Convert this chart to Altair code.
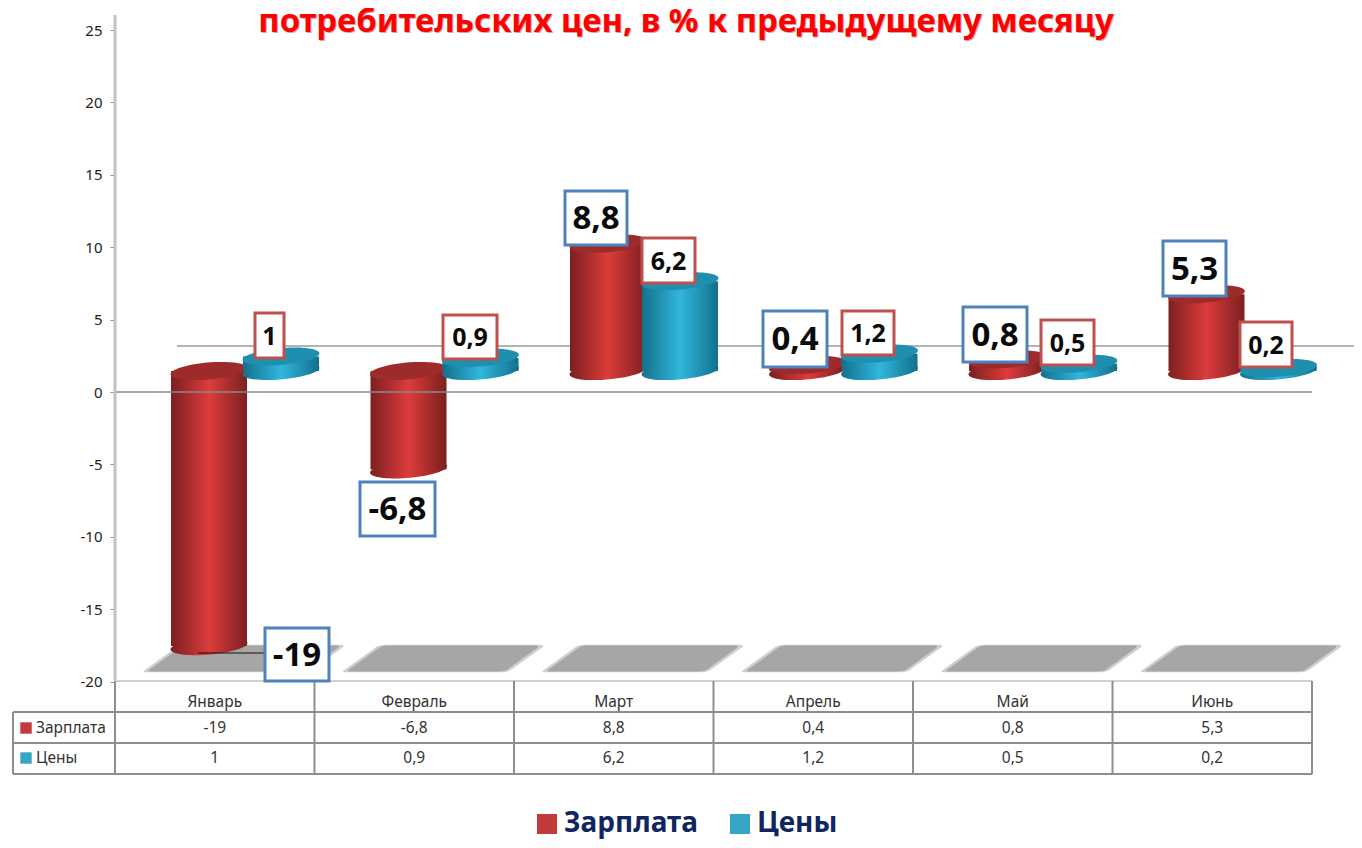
import altair as alt
import pandas as pd

# ---- values
months = ["Январь", "Февраль", "Март", "Апрель", "Май", "Июнь"]
wages = [-19, -6.8, 8.8, 0.4, 0.8, 5.3]
prices = [1, 0.9, 6.2, 1.2, 0.5, 0.2]
series_names = ["Зарплата", "Цены"]
axis_ticks = [-20, -15, -10, -5, 0, 5, 10, 15, 20, 25]
title_text = "потребительских цен, в % к предыдущему месяцу"

# ---- layout helpers (screen pixel -> data units of the shared scales)
PLOT_L, PLOT_T, PLOT_W, PLOT_H = 115, 15, 1197, 759
PX_PER_CAT = PLOT_W / 6
PX_PER_UNIT = 14.48
ZERO_PX = 392
def dx(px): return (px - PLOT_L) / PX_PER_CAT
def dy(px): return (ZERO_PX - px) / PX_PER_UNIT
Y_DOMAIN = [dy(PLOT_T + PLOT_H), dy(PLOT_T)]
BASE = 1.45            # the 3-D floor of the cylinders sits above the zero line
BAR_W = 76 / PX_PER_CAT
CENTER = {"Зарплата": dx(209), "Цены": dx(281)}

Y_AXIS = alt.Axis(values=axis_ticks, title=None, grid=False, domain=False,
                  tickColor="#9a9a9a", tickSize=5, labelFont="Noto Sans", labelFontSize=15,
                  labelColor="#222222", labelPadding=8,
                  labelExpr="replace(datum.label, '−', '-')")
X = lambda f="x": alt.X(f"{f}:Q", scale=alt.Scale(domain=[0, 6], nice=False, zero=False), axis=None)
Y = lambda f="y": alt.Y(f"{f}:Q", scale=alt.Scale(domain=Y_DOMAIN, nice=False, zero=False), axis=Y_AXIS)

def fmt(v):
    return str(v).replace(".", ",")

def grad(edge, mid):
    return alt.Gradient(
        gradient="linear", x1=0, x2=1, y1=0, y2=0,
        stops=[alt.GradientStop(color=edge, offset=0),
               alt.GradientStop(color=mid, offset=0.5),
               alt.GradientStop(color=edge, offset=1)])

GR = grad("#7c1f1f", "#dc3c3c")
GB = grad("#13708c", "#31b6dc")
ELLIPSE = "M-1,0.05 A1,0.22 -5 1 1 1,-0.05 A1,0.22 -5 1 1 -1,0.05 Z"
ELL_SIZE = 76 ** 2

def cyl_rows(name, vals):
    rows = []
    for i, v in enumerate(vals):
        a, b = BASE, BASE + v
        rows.append(dict(cat=months[i], xc=i + CENTER[name],
                         x=i + CENTER[name] - BAR_W / 2, x2=i + CENTER[name] + BAR_W / 2,
                         top=max(a, b), bot=min(a, b)))
    return pd.DataFrame(rows)

def cylinder(df, body, cap):
    bottom = alt.Chart(df).mark_point(shape=ELLIPSE, filled=True, fill=body, opacity=1, size=ELL_SIZE, stroke=None).encode(x=X("xc"), y=Y("bot"))
    rect = alt.Chart(df).mark_rect(fill=body).encode(x=X("x"), x2="x2:Q", y=Y("bot"), y2="top:Q")
    top = alt.Chart(df).mark_point(shape=ELLIPSE, filled=True, fill=cap, opacity=1, size=ELL_SIZE, stroke=None).encode(x=X("xc"), y=Y("top"))
    return [bottom, rect, top]

df_r = cyl_rows("Зарплата", wages)
df_b = cyl_rows("Цены", prices)

# ---- hidden points behind the cylinders feed the real legend
legend_df = pd.DataFrame({"x": [CENTER["Зарплата"], CENTER["Цены"]], "y": [-5.0, 2.0], "s": series_names})
legend_layer = alt.Chart(legend_df).mark_point(filled=True, size=10, opacity=1).encode(
    x=X(), y=Y(),
    color=alt.Color("s:N", sort=series_names,
                    scale=alt.Scale(domain=series_names, range=["#c23a3a", "#35a5c6"]),
                    legend=alt.Legend(title=None, orient="none", direction="horizontal", columns=2,
                                      legendX=418, legendY=795, symbolType="square", symbolSize=400,
                                      symbolStrokeWidth=0, labelFont="Noto Sans", labelFontWeight="bold",
                                      labelFontSize=28, labelColor="#10265f", columnPadding=28,
                                      labelOffset=3, labelLimit=300, padding=0)))

# ---- floor shadows
sh_df = pd.DataFrame({"x": [i + dx(243) for i in range(6)], "y": [dy(658.5)] * 6})
SHADOW = "M-0.56,-0.135 L0.96,-0.135 Q1,-0.135 0.98,-0.11 L0.66,0.12 Q0.62,0.135 0.56,0.135 L-0.94,0.135 Q-1,0.135 -0.96,0.11 L-0.64,-0.12 Q-0.6,-0.135 -0.56,-0.135 Z"
shadow_soft = alt.Chart(sh_df).mark_point(shape=SHADOW, filled=True, color="#cfcfcf", opacity=1, size=204 ** 2).encode(x=X(), y=Y())
shadow_core = alt.Chart(sh_df).mark_point(shape=SHADOW, filled=True, color="#a6a6a6", opacity=1, size=194 ** 2).encode(x=X(), y=Y())

# ---- grid-like lines
def hline(x0, x1, ypx, color="#8e8e8e", w=2):
    d = pd.DataFrame({"x": [dx(x0)], "x2": [dx(x1)], "y": [dy(ypx)]})
    return alt.Chart(d).mark_rule(color=color, strokeWidth=w).encode(x=X(), x2="x2:Q", y=Y())

def vline(xpx, y0, y1, color="#8e8e8e", w=2):
    d = pd.DataFrame({"x": [dx(xpx)], "y": [dy(y0)], "y2": [dy(y1)]})
    return alt.Chart(d).mark_rule(color=color, strokeWidth=w).encode(x=X(), y=Y(), y2="y2:Q")

back_line = hline(177, 1354, 346, "#9a9a9a", 1.5)
zero_line = hline(115, 1312, 392, "#8a8a8a", 1.5)
y_axis_line = vline(115, 15, 681, "#c2c2c2", 3)

# ---- data table
tbl = [hline(115, 1312, 681, "#d0d0d0", 2), hline(13, 1312, 712), hline(13, 1312, 743), hline(13, 1312, 774),
       vline(13, 712, 774)]
for i in range(7):
    tbl.append(vline(115 + i * PX_PER_CAT, 681, 774))

def table_text(rows, align="center", size=15.5):
    return alt.Chart(pd.DataFrame(rows)).mark_text(font="Noto Sans", fontSize=size, color="#333333", align=align,
                                                   baseline="middle").encode(x=X(), y=Y(), text="t:N")

cell_rows = []
for i, m in enumerate(months):
    cell_rows.append(dict(x=i + 0.5, y=dy(702), t=m))
    cell_rows.append(dict(x=i + 0.5, y=dy(728), t=fmt(wages[i])))
    cell_rows.append(dict(x=i + 0.5, y=dy(758), t=fmt(prices[i])))
cells = table_text(cell_rows)
heads = table_text([dict(x=dx(36), y=dy(728), t=series_names[0]), dict(x=dx(36), y=dy(758), t=series_names[1])], align="left")
sw_r = alt.Chart(pd.DataFrame({"x": [dx(26)], "y": [dy(728)]})).mark_square(size=130, fill="#c23a3a", opacity=1).encode(x=X(), y=Y())
sw_b = alt.Chart(pd.DataFrame({"x": [dx(26)], "y": [dy(758)]})).mark_square(size=130, fill="#35a5c6", opacity=1).encode(x=X(), y=Y())

# ---- data labels (boxes placed by hand in the original)
wage_boxes = [(265, 329, 628, 681), (360, 435, 482, 536), (565, 627, 191, 245),
              (763, 827, 311, 367), (963, 1027, 307, 362), (1163, 1226, 241, 296)]
price_boxes = [(255, 284, 313, 358), (443, 497, 315, 359), (642, 695, 238, 283),
               (842, 894, 311, 355), (1041, 1094, 320, 365), (1240, 1292, 322, 367)]

def label_df(vals, boxes):
    return pd.DataFrame([dict(x=dx(b[0]), x2=dx(b[1]), y=dy(b[3]), y2=dy(b[2]),
                              xc=dx((b[0] + b[1]) / 2), yc=dy((b[2] + b[3]) / 2 + 1), t=fmt(v))
                         for v, b in zip(vals, boxes)])

def labels(d, stroke, size):
    box = alt.Chart(d).mark_rect(fill="white", stroke=stroke, strokeWidth=3).encode(x=X(), x2="x2:Q", y=Y(), y2="y2:Q")
    txt = alt.Chart(d).mark_text(font="Open Sans", fontWeight="bold", fontSize=size, color="#0a0a0a",
                                 baseline="middle").encode(x=X("xc"), y=Y("yc"), text="t:N")
    return [box, txt]

leader = hline(198, 265, 653, "#111111", 1.2)

# ---- title (its first line lies outside the picture)
title_df = pd.DataFrame({"x": [dx(686)], "y": [dy(32)], "t": [title_text]})
def title_mark(color, dxv=0, dyv=0, op=1):
    return alt.Chart(title_df).mark_text(font="Noto Sans", fontWeight="bold", fontSize=32.8, color=color, opacity=op,
                                         baseline="alphabetic", dx=dxv, dy=dyv).encode(x=X(), y=Y(), text="t:N")

layers = [shadow_soft, shadow_core, back_line, legend_layer]
layers += cylinder(df_r, GR, "#9e2b2b") + cylinder(df_b, GB, "#1f8fb0")
layers += [zero_line, y_axis_line] + tbl + [cells, heads, sw_r, sw_b, leader]
layers += labels(label_df(wages, wage_boxes), "#4f81bd", 33) + labels(label_df(prices, price_boxes), "#c0504d", 25)
layers += [title_mark("#8a0000", 1, 1, 0.35), title_mark("#ff0000")]

# svg total: 1346 x 832, so the page (with its 8px margins) fits the window exactly
chart = alt.layer(*layers).properties(
    width=PLOT_W, height=PLOT_H,
    padding={"left": PLOT_L - 8, "top": PLOT_T - 8, "right": 42, "bottom": 66},
    autosize=alt.AutoSizeParams(type="none"),
    background="white",
).configure_view(stroke=None)

chart.save("out.html", embed_options={"renderer": "svg", "actions": False})
